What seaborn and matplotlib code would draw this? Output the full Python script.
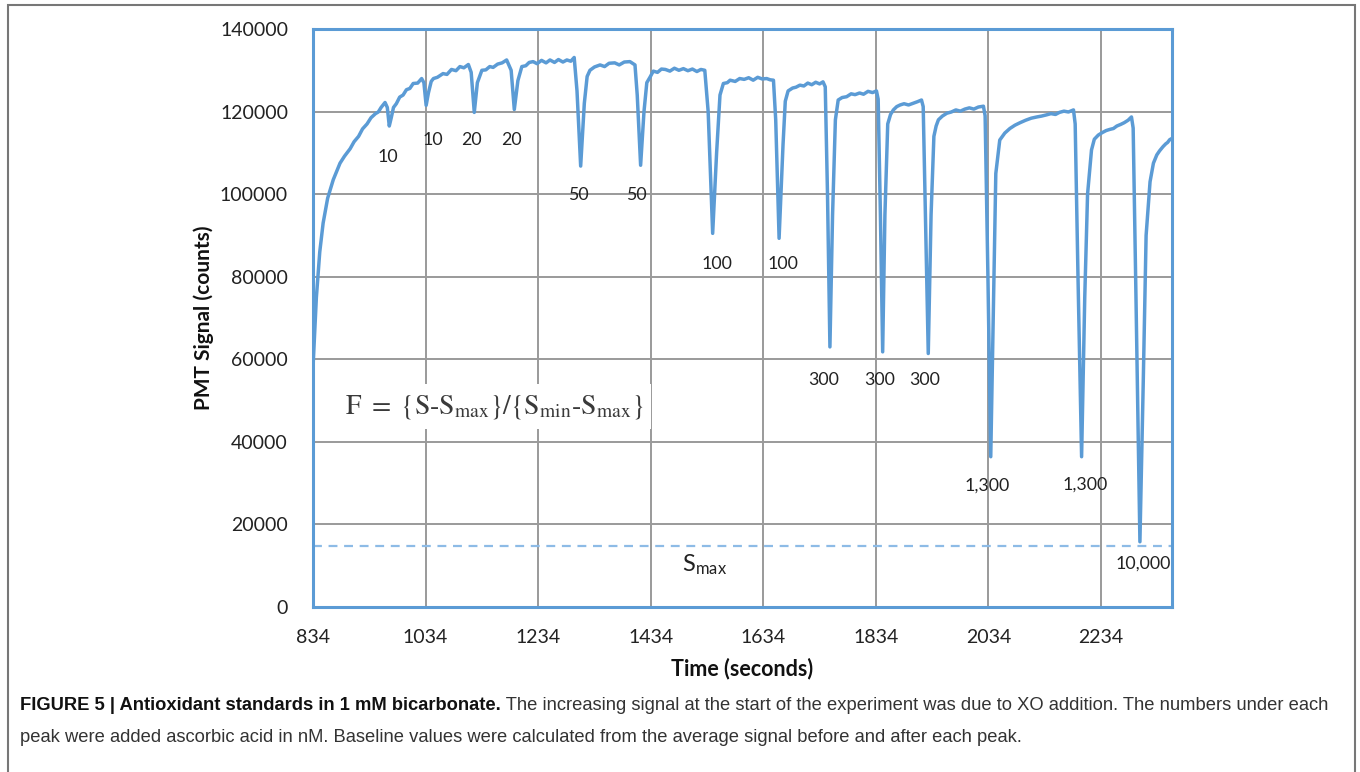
import pandas as pd
import matplotlib.pyplot as plt
import seaborn as sns
from matplotlib.patches import Rectangle

# PMT trace: (time in s, signal in counts)
trace = [
    (834, 58000), (840, 75000), (846, 86000), (852, 93000), (860, 99000), (870, 103500),
    (882, 107500), (890, 109200), (900, 111000), (907, 112700), (915, 114000), (922, 115800),
    (930, 117000), (937, 118500), (945, 119500), (950, 119900), (955, 121000), (962, 122200),
    (966, 121000), (969.5, 116500), (973, 118500), (977, 121000), (982, 121900), (988, 123500),
    (994, 124000), (1000, 125300), (1006, 125600), (1012, 126800), (1020, 126900), (1027, 128000),
    (1031, 127000), (1035, 121500), (1039, 124500), (1044, 127300), (1048, 128000),
    (1055, 128300), (1065, 129200), (1072, 129000), (1080, 130200), (1088, 129900),
    (1095, 130900), (1102, 130600), (1110, 131400), (1115, 129500), (1120.5, 119800),
    (1126, 127000), (1134, 130000), (1141, 130100), (1148, 130900), (1154, 130700),
    (1162, 131500), (1170, 131800), (1178, 132500), (1186, 130000), (1191.6, 120500),
    (1198, 127500), (1205, 130900), (1212, 131100), (1218, 131900), (1225, 132100),
    (1232, 131600), (1240, 132400), (1248, 131800), (1255, 132500), (1263, 131900),
    (1270, 132600), (1278, 132000), (1285, 132500), (1292, 132200), (1298, 133100),
    (1303, 125000), (1309.5, 106800), (1316, 122000), (1321, 128500), (1326, 130000),
    (1334, 130800), (1344, 131300), (1352, 130900), (1360, 131700), (1370, 131800),
    (1378, 131300), (1387, 132000), (1397, 132100), (1406, 131300), (1410, 124000),
    (1416, 107000), (1422, 120000), (1427, 127000), (1433, 128400), (1438.5, 129800),
    (1446, 129500), (1453, 130300), (1460, 130200), (1468, 129800), (1476, 130500),
    (1484, 130000), (1492, 130400), (1500, 129900), (1508, 130300), (1516, 129700),
    (1523, 130200), (1530, 130000), (1536, 120000), (1544, 90500), (1551, 110000),
    (1557, 124000), (1563, 126800), (1570, 127000), (1575, 127600), (1584, 127300),
    (1592, 128000), (1600, 127800), (1608, 128200), (1616, 127600), (1624, 128300),
    (1632, 127900), (1640, 128000), (1646, 127700), (1652, 127600), (1656, 118000),
    (1662, 89300), (1669, 112000), (1673, 122500), (1678, 125000), (1686, 125700),
    (1692, 125900), (1699, 126400), (1706, 126200), (1713, 126900), (1720, 126500),
    (1727, 127100), (1734, 126700), (1740, 127200), (1744, 126000), (1748, 100000),
    (1752.3, 63000), (1757, 95000), (1762, 118000), (1767, 122800), (1774, 123400),
    (1782, 123600), (1790, 124300), (1797, 124100), (1805, 124500), (1812, 124200),
    (1820, 124900), (1828, 124600), (1835, 125000), (1838, 123000), (1842, 95000),
    (1846, 61800), (1850, 95000), (1855, 117000), (1860, 119300), (1865, 120400),
    (1871, 121200), (1877, 121600), (1884, 121900), (1892, 121600), (1900, 122000),
    (1908, 122400), (1915, 122800), (1918, 121200), (1922, 95000), (1927, 61400),
    (1932, 95000), (1937, 114000), (1941, 116500), (1945, 118000), (1952, 118900),
    (1960, 119600), (1968, 119900), (1976, 120400), (1984, 120100), (1992, 120600),
    (2000, 120900), (2008, 120600), (2016, 121100), (2025, 121300), (2028, 119000),
    (2033, 80000), (2038, 36400), (2043, 75000), (2047, 105000), (2054, 113100),
    (2063, 114800), (2072, 115900), (2081, 116700), (2090, 117300), (2100, 117900),
    (2110, 118400), (2120, 118700), (2128, 118900), (2137, 119200), (2145, 119500),
    (2153, 119300), (2160, 119800), (2168, 120100), (2176, 119900), (2185, 120400),
    (2188, 117000), (2193, 80000), (2199.4, 36400), (2205, 75000), (2210, 100000),
    (2217, 110700), (2222, 113300), (2229, 114300), (2236, 114900), (2243, 115400),
    (2250, 115700), (2256, 115900), (2262, 116500), (2269, 116900), (2275, 117300),
    (2282, 117900), (2288, 118700), (2291, 116000), (2296, 75000), (2303, 15800),
    (2309, 55000), (2314, 90000), (2321, 103000), (2327, 107500), (2333, 109500),
    (2338, 110500), (2344, 111500), (2349, 112200), (2352, 112500), (2356, 113200),
    (2360, 113500),
]

s_max = 14800

# added ascorbic acid (nM) written under each peak
peak_labels = ['10', '10', '20', '20', '50', '50', '100', '100', '300', '300', '300',
               '1,300', '1,300', '10,000']
label_time = [967, 1047, 1115, 1187, 1305, 1408, 1551, 1668, 1742, 1841, 1921, 2032, 2205, 2309]
label_value = [109000, 113100, 113100, 113100, 99800, 99800, 83200, 83000, 55100, 55100, 55100,
               29300, 29700, 10400]

x_ticks = [834, 1034, 1234, 1434, 1634, 1834, 2034, 2234]
y_ticks = [0, 20000, 40000, 60000, 80000, 100000, 120000, 140000]

df = pd.DataFrame(trace, columns=['time', 'signal'])

sns.set_theme(style='white')
plt.rcParams['font.family'] = ['Lato', 'DejaVu Sans']
plt.rcParams['mathtext.fontset'] = 'stix'

blue = '#5b9bd5'
fig = plt.figure(figsize=(13.6, 7.72), dpi=100)
ax = fig.add_axes([313 / 1360, 1 - 607 / 772, (1172 - 313) / 1360, (607 - 29) / 772])

sns.lineplot(data=df, x='time', y='signal', ax=ax, color=blue, lw=2.5,
             estimator=None, sort=False, zorder=3)
ax.axhline(s_max, color='#8dbbe6', lw=1.6, ls=(0, (4, 3)), zorder=2)

ax.set_xlim(834, 2360)
ax.set_ylim(0, 140000)
ax.set_xticks(x_ticks)
ax.set_yticks(y_ticks)
ax.grid(True, color='#9a9a9a', lw=1.4)
ax.set_axisbelow(True)
for sp in ax.spines.values():
    sp.set_color(blue)
    sp.set_linewidth(2.2)
    sp.set_visible(True)
ax.tick_params(axis='both', length=0, labelsize=14, colors='#222222')
ax.tick_params(axis='x', pad=16)
ax.tick_params(axis='y', pad=18)

ax.set_xlabel('Time (seconds)', fontsize=15.5, fontweight='bold', color='#111111', labelpad=8)
ax.set_ylabel('PMT Signal (counts)', fontsize=15, fontweight='bold', color='#111111', labelpad=4)

for t, x, y in zip(peak_labels, label_time, label_value):
    ax.text(x, y, t, ha='center', va='center', fontsize=12.8, color='#222222')

ax.text(1530, 10200, r'S$_{\mathregular{max}}$', ha='center', va='center', fontsize=17,
        color='#222222')
ax.text(890, 48500, r'$\mathrm{F\ =\ \{S\text{-}S_{max}\}/\{S_{min}\text{-}S_{max}\}}$',
        ha='left', va='center', fontsize=20, color='#3a3a3a', zorder=4,
        bbox=dict(fc='white', ec='none', pad=6))

# figure frame
fig.patches.append(Rectangle((8 / 1360, -0.05), (1355 - 8) / 1360, 1.05 - 5 / 772,
                             transform=fig.transFigure, fill=False, ec='#777777', lw=1.5))

# caption
cap = fig.text(20 / 1360, 1 - 705 / 772, 'FIGURE 5 | Antioxidant standards in 1 mM bicarbonate.',
               fontsize=13.2, fontweight='bold', family='Liberation Sans', va='center',
               color='#111111')
ax.annotate(' The increasing signal at the start of the experiment was due to XO addition. '
            'The numbers under each', xy=(1, 0.5), xycoords=cap, va='center', ha='left',
            fontsize=13.2, family='Liberation Sans', color='#333333', annotation_clip=False)
fig.text(20 / 1360, 1 - 737 / 772, 'peak were added ascorbic acid in nM. Baseline values were '
         'calculated from the average signal before and after each peak.',
         fontsize=13.2, family='Liberation Sans', va='center', color='#333333')

fig.savefig('out.png', dpi=100)
